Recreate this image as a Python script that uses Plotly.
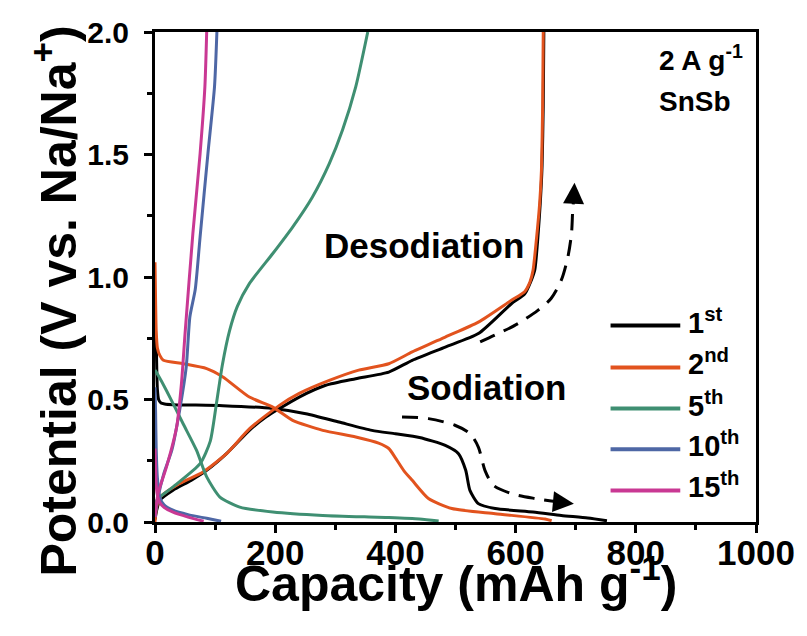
import plotly.graph_objects as go

# ---------------- data ----------------
cycles = ["1<sup>st</sup>", "2<sup>nd</sup>", "5<sup>th</sup>", "10<sup>th</sup>", "15<sup>th</sup>"]
colors = ["#000000", "#E2531E", "#3F8F72", "#4E67A5", "#C93893"]

# 1st cycle
c1_dis_x = [0, 2, 3, 4, 6, 10, 16, 30, 113, 196, 251, 306, 361, 400, 440, 483, 505, 517, 524, 538, 566, 629, 676, 720, 752]
c1_dis_y = [0.76, 0.72, 0.62, 0.54, 0.50, 0.486, 0.482, 0.479, 0.475, 0.463, 0.442, 0.408, 0.374, 0.360, 0.345, 0.313, 0.279, 0.211, 0.129, 0.075, 0.055, 0.041, 0.027, 0.016, 0.005]
c1_chg_x = [0, 3, 8, 30, 60, 86, 119, 157, 185, 207, 240, 284, 334, 389, 428, 483, 538, 593, 615, 625, 632, 637, 641, 644, 646, 647]
c1_chg_y = [0.01, 0.05, 0.089, 0.13, 0.17, 0.211, 0.279, 0.374, 0.429, 0.463, 0.51, 0.558, 0.585, 0.612, 0.66, 0.714, 0.769, 0.891, 0.93, 0.98, 1.03, 1.16, 1.30, 1.45, 1.70, 2.0]

# 2nd cycle
c2_dis_x = [0, 1, 2, 4, 8, 14, 47, 86, 113, 157, 196, 229, 279, 334, 372, 389, 400, 414, 428, 455, 494, 566, 649, 660]
c2_dis_y = [1.06, 0.90, 0.78, 0.71, 0.68, 0.66, 0.646, 0.626, 0.592, 0.51, 0.469, 0.415, 0.374, 0.347, 0.322, 0.300, 0.262, 0.21, 0.17, 0.096, 0.055, 0.034, 0.012, 0.005]
c2_chg_x = [0, 2, 8, 41, 80, 119, 157, 207, 240, 290, 339, 389, 428, 483, 538, 593, 615, 624, 629, 635, 640, 643, 645, 646]
c2_chg_y = [0.0, 0.05, 0.10, 0.157, 0.204, 0.279, 0.38, 0.476, 0.525, 0.578, 0.62, 0.646, 0.694, 0.755, 0.816, 0.905, 0.94, 0.98, 1.027, 1.163, 1.30, 1.435, 1.70, 2.0]

# 5th cycle
c5_dis_x = [0, 5, 19, 47, 69, 86, 108, 141, 196, 279, 389, 440, 472]
c5_dis_y = [0.62, 0.60, 0.537, 0.40, 0.293, 0.184, 0.102, 0.061, 0.041, 0.027, 0.018, 0.012, 0.004]
c5_chg_x = [0, 3, 30, 75, 92, 102, 112, 124, 137, 157, 196, 229, 262, 290, 312, 334, 354]
c5_chg_y = [0.02, 0.089, 0.143, 0.238, 0.33, 0.48, 0.64, 0.78, 0.88, 0.973, 1.096, 1.204, 1.327, 1.463, 1.60, 1.776, 2.0]

# 10th cycle
c10_dis_x = [0, 1, 2, 4, 8, 15, 30, 55, 86, 110]
c10_dis_y = [0.55, 0.45, 0.30, 0.18, 0.10, 0.07, 0.048, 0.03, 0.015, 0.003]
c10_chg_x = [0, 5, 15, 28, 41, 52, 58, 67, 75, 88, 99, 103]
c10_chg_y = [0.02, 0.10, 0.20, 0.293, 0.456, 0.633, 0.837, 0.95, 1.163, 1.503, 1.776, 2.0]

# 15th cycle
c15_dis_x = [0, 1, 2, 4, 8, 15, 30, 55, 81]
c15_dis_y = [0.30, 0.22, 0.15, 0.11, 0.08, 0.06, 0.04, 0.02, 0.003]
c15_chg_x = [0, 5, 19, 36, 44, 50, 63, 75, 83, 86]
c15_chg_y = [0.02, 0.116, 0.224, 0.388, 0.565, 0.769, 1.177, 1.503, 1.776, 2.0]

# guide arrows (dashed)
sod_arrow_x = [411, 455, 499, 524, 538, 549, 563, 593, 632, 684]
sod_arrow_y = [0.429, 0.422, 0.395, 0.361, 0.306, 0.211, 0.150, 0.116, 0.096, 0.078]
desod_arrow_x = [541, 571, 604, 637, 659, 676, 687, 693, 695, 697]
desod_arrow_y = [0.735, 0.769, 0.810, 0.864, 0.912, 0.987, 1.082, 1.177, 1.272, 1.33]

# legend rows (y positions in data units) and sample line span
legend_y = [0.802, 0.631, 0.463, 0.297, 0.129]
legend_line_x = [758, 874]
legend_text_x = 884

x_ticks = [0, 200, 400, 600, 800, 1000]
y_ticks = [0.0, 0.5, 1.0, 1.5, 2.0]

FONT = "Liberation Sans, Arial, sans-serif"

series = [
    (c1_dis_x, c1_dis_y, c1_chg_x, c1_chg_y),
    (c2_dis_x, c2_dis_y, c2_chg_x, c2_chg_y),
    (c5_dis_x, c5_dis_y, c5_chg_x, c5_chg_y),
    (c10_dis_x, c10_dis_y, c10_chg_x, c10_chg_y),
    (c15_dis_x, c15_dis_y, c15_chg_x, c15_chg_y),
]

fig = go.Figure()
for (dx, dy, cx, cy), name, col in zip(series, cycles, colors):
    fig.add_trace(go.Scatter(x=dx, y=dy, mode="lines", line=dict(color=col, width=3, shape="spline", smoothing=0.6),
                             name=name, showlegend=False, hoverinfo="skip"))
    fig.add_trace(go.Scatter(x=cx, y=cy, mode="lines", line=dict(color=col, width=3, shape="spline", smoothing=0.6),
                             name=name, showlegend=False, hoverinfo="skip"))

for ax_x, ax_y in [(sod_arrow_x, sod_arrow_y), (desod_arrow_x, desod_arrow_y)]:
    fig.add_trace(go.Scatter(x=ax_x, y=ax_y, mode="lines",
                             line=dict(color="black", width=3, dash="16px,10px", shape="spline", smoothing=0.8),
                             showlegend=False, hoverinfo="skip"))

annotations = []
# arrow heads
annotations.append(dict(x=697, y=0.075, ax=sod_arrow_x[-1], ay=sod_arrow_y[-1], xref="x", yref="y",
                        axref="x", ayref="y", showarrow=True, arrowhead=2, arrowsize=1.4, arrowwidth=3,
                        arrowcolor="black", text=""))
annotations.append(dict(x=698, y=1.385, ax=desod_arrow_x[-1], ay=desod_arrow_y[-1], xref="x", yref="y",
                        axref="x", ayref="y", showarrow=True, arrowhead=2, arrowsize=1.4, arrowwidth=3,
                        arrowcolor="black", text=""))

# text labels
annotations.append(dict(x=448, y=1.129, xref="x", yref="y", text="<b>Desodiation</b>", showarrow=False,
                        font=dict(family=FONT, size=35, color="black")))
annotations.append(dict(x=551, y=0.55, xref="x", yref="y", text="<b>Sodiation</b>", showarrow=False,
                        font=dict(family=FONT, size=35, color="black")))
annotations.append(dict(x=835, y=1.895, xref="x", yref="y", text="<b>2 A g<sup>-1</sup></b>", showarrow=False,
                        xanchor="left", font=dict(family=FONT, size=28, color="black")))
annotations.append(dict(x=835, y=1.715, xref="x", yref="y", text="<b>SnSb</b>", showarrow=False,
                        xanchor="left", font=dict(family=FONT, size=28, color="black")))

# legend (manual)
shapes = []
for ly, name, col in zip(legend_y, cycles, colors):
    shapes.append(dict(type="line", xref="x", yref="y", x0=legend_line_x[0], x1=legend_line_x[1], y0=ly, y1=ly,
                       line=dict(color=col, width=4)))
    annotations.append(dict(x=legend_text_x, y=ly, xref="x", yref="y", text="<b>" + name + "</b>",
                            showarrow=False, xanchor="left", yanchor="middle", yshift=5,
                            font=dict(family=FONT, size=29, color="black")))

# axis titles
annotations.append(dict(x=0.5, y=-0.119, xref="paper", yref="paper", text="<b>Capacity (mAh g<sup>-1</sup>)</b>",
                        showarrow=False, xanchor="center", yanchor="middle",
                        font=dict(family=FONT, size=50, color="black")))
annotations.append(dict(x=-0.168, y=0.45, xref="paper", yref="paper", text="<b>Potential (V vs. Na/Na<sup>+</sup>)</b>",
                        showarrow=False, textangle=-90, xanchor="center", yanchor="middle",
                        font=dict(family=FONT, size=50, color="black")))

fig.update_layout(
    width=807, height=636,
    margin=dict(l=155, r=48, t=32, b=114),
    plot_bgcolor="white", paper_bgcolor="white",
    showlegend=False,
    annotations=annotations, shapes=shapes,
)
fig.update_xaxes(range=[0, 1000], tickvals=x_ticks, ticktext=[str(v) for v in x_ticks],
                 showgrid=False, zeroline=False, showline=True, linecolor="black", linewidth=3, mirror=True,
                 ticks="outside", ticklen=8, tickwidth=3, tickcolor="black",
                 minor=dict(ticks="outside", ticklen=5, tickwidth=3, tickcolor="black", dtick=100, showgrid=False),
                 tickfont=dict(family=FONT, size=35, color="black", weight="bold"), ticklabelstandoff=-10)
fig.update_yaxes(range=[0, 2], tickvals=y_ticks, ticktext=["%.1f" % v for v in y_ticks],
                 showgrid=False, zeroline=False, showline=True, linecolor="black", linewidth=3, mirror=True,
                 ticks="outside", ticklen=8, tickwidth=3, tickcolor="black",
                 minor=dict(ticks="outside", ticklen=5, tickwidth=3, tickcolor="black", dtick=0.25, showgrid=False),
                 tickfont=dict(family=FONT, size=30, color="black", weight="bold"), ticklabelstandoff=9)

fig.write_html("out.html")
